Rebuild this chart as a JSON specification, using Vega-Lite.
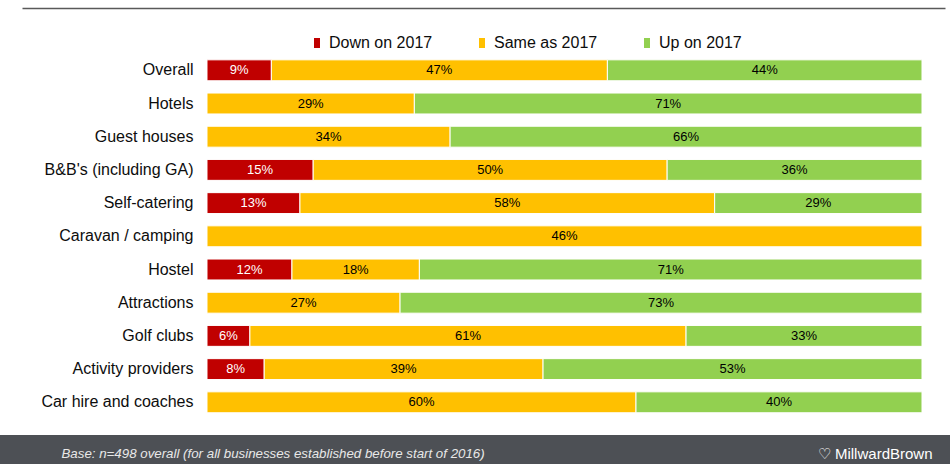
{
  "$schema": "https://vega.github.io/schema/vega-lite/v6.json",
  "width": 950,
  "height": 435,
  "autosize": {"type": "none"},
  "padding": {"left": 0, "top": 0, "right": 0, "bottom": 29},
  "background": "#4D5055",
  "config": {"view": {"fill": "white", "stroke": null}, "font": "Liberation Sans"},
  "data": {"values": [
    {"type": "Overall", "resp": "Down on 2017", "pct": 0.09},
    {"type": "Overall", "resp": "Same as 2017", "pct": 0.47},
    {"type": "Overall", "resp": "Up on 2017", "pct": 0.44},
    {"type": "Hotels", "resp": "Same as 2017", "pct": 0.29},
    {"type": "Hotels", "resp": "Up on 2017", "pct": 0.71},
    {"type": "Guest houses", "resp": "Same as 2017", "pct": 0.34},
    {"type": "Guest houses", "resp": "Up on 2017", "pct": 0.66},
    {"type": "B&B's (including GA)", "resp": "Down on 2017", "pct": 0.15},
    {"type": "B&B's (including GA)", "resp": "Same as 2017", "pct": 0.50},
    {"type": "B&B's (including GA)", "resp": "Up on 2017", "pct": 0.36},
    {"type": "Self-catering", "resp": "Down on 2017", "pct": 0.13},
    {"type": "Self-catering", "resp": "Same as 2017", "pct": 0.58},
    {"type": "Self-catering", "resp": "Up on 2017", "pct": 0.29},
    {"type": "Caravan / camping", "resp": "Same as 2017", "pct": 0.46},
    {"type": "Hostel", "resp": "Down on 2017", "pct": 0.12},
    {"type": "Hostel", "resp": "Same as 2017", "pct": 0.18},
    {"type": "Hostel", "resp": "Up on 2017", "pct": 0.71},
    {"type": "Attractions", "resp": "Same as 2017", "pct": 0.27},
    {"type": "Attractions", "resp": "Up on 2017", "pct": 0.73},
    {"type": "Golf clubs", "resp": "Down on 2017", "pct": 0.06},
    {"type": "Golf clubs", "resp": "Same as 2017", "pct": 0.61},
    {"type": "Golf clubs", "resp": "Up on 2017", "pct": 0.33},
    {"type": "Activity providers", "resp": "Down on 2017", "pct": 0.08},
    {"type": "Activity providers", "resp": "Same as 2017", "pct": 0.39},
    {"type": "Activity providers", "resp": "Up on 2017", "pct": 0.53},
    {"type": "Car hire and coaches", "resp": "Same as 2017", "pct": 0.60},
    {"type": "Car hire and coaches", "resp": "Up on 2017", "pct": 0.40}
  ]},
  "encoding": {
    "y": {
      "field": "type", "type": "nominal", "sort": null,
      "scale": {"range": [53.7, 418.9], "paddingInner": 0.37, "paddingOuter": 0.185},
      "axis": {
        "title": "♡ MillwardBrown", "titleX": 739, "titleY": 453, "titleAngle": 0,
        "titleAlign": "right", "titleBaseline": "middle", "titleColor": "#FFFFFF",
        "titleFont": "Liberation Sans", "titleFontSize": 15, "titleFontWeight": "normal",
        "offset": -193, "labelPadding": 0, "ticks": false, "domain": false,
        "labelFontSize": 16, "labelColor": "#0D0D0D", "labelFont": "Liberation Sans", "labelLimit": 300
      }
    }
  },
  "layer": [
    {
      "mark": {"type": "bar", "stroke": "white", "strokeWidth": 1},
      "encoding": {
        "x": {
          "field": "pct", "type": "quantitative", "stack": "normalize",
          "scale": {"domain": [-0.25874, 1.03217], "range": [22, 945], "nice": false, "zero": false},
          "axis": {
            "orient": "top", "offset": -8, "domain": true, "domainColor": "#595959", "domainWidth": 1.5,
            "ticks": false, "labels": false, "grid": false,
            "title": "Base: n=498 overall (for all businesses established before start of 2016)",
            "titleX": 61, "titleY": 445, "titleAlign": "left", "titleBaseline": "middle", "titleAngle": 0,
            "titleFont": "Liberation Sans", "titleFontSize": 13.3, "titleFontStyle": "italic",
            "titleFontWeight": "normal", "titleColor": "#E8E8E8"
          }
        },
        "order": {"field": "resp", "sort": "ascending"},
        "color": {
          "field": "resp", "type": "nominal",
          "scale": {"domain": ["Down on 2017", "Same as 2017", "Up on 2017"], "range": ["#C00000", "#FFC000", "#92D050"]},
          "legend": {
            "orient": "none", "legendX": 309, "legendY": 35, "direction": "horizontal", "title": null,
            "labelFontSize": 16, "labelFont": "Liberation Sans", "labelColor": "#0D0D0D",
            "symbolType": "M-0.6,-1L0.6,-1L0.6,1L-0.6,1Z", "symbolSize": 100, "symbolStrokeWidth": 0,
            "columnPadding": 41, "labelOffset": 4
          }
        }
      }
    },
    {
      "mark": {"type": "text", "fontSize": 13, "font": "Liberation Sans", "baseline": "middle"},
      "encoding": {
        "x": {"field": "pct", "type": "quantitative", "stack": "normalize", "bandPosition": 0.5},
        "detail": {"field": "resp"},
        "order": {"field": "resp", "sort": "ascending"},
        "text": {"field": "pct", "format": ".0%"},
        "color": {"condition": {"test": "datum.resp === 'Down on 2017'", "value": "white"}, "value": "black"}
      }
    }
  ]
}
